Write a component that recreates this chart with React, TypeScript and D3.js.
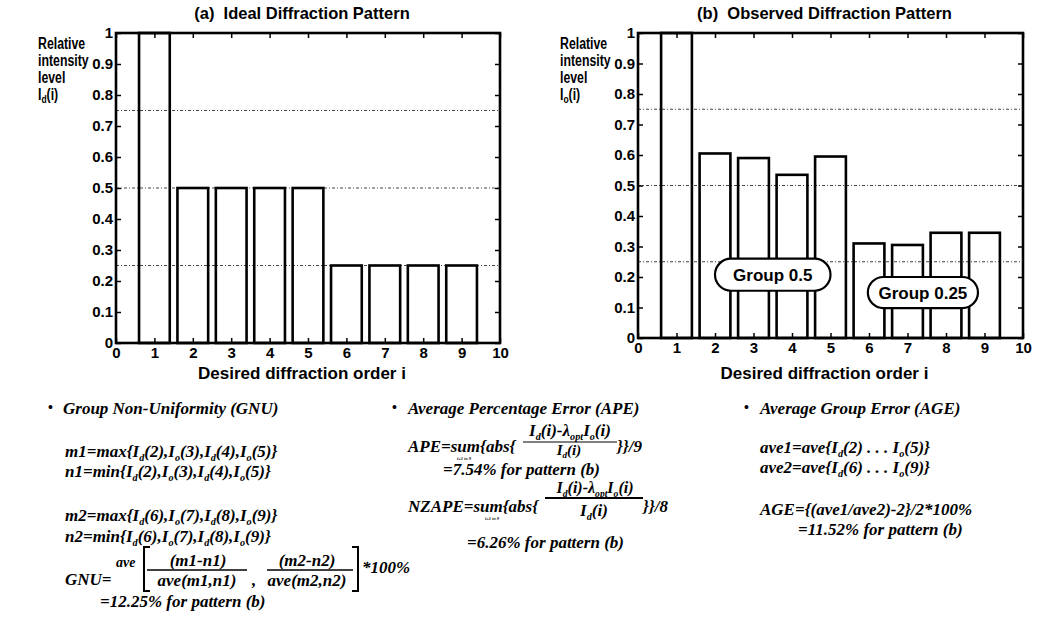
import { useRef, useEffect } from "react";
import * as d3 from "d3";

// diffraction orders 1..9 and their relative intensity levels
const orders = [1, 2, 3, 4, 5, 6, 7, 8, 9];
const idealLevels = [1, 0.5, 0.5, 0.5, 0.5, 0.25, 0.25, 0.25, 0.25];
const observedLevels = [1, 0.605, 0.59, 0.535, 0.595, 0.31, 0.305, 0.345, 0.345];

const yTicks = [0, 0.1, 0.2, 0.3, 0.4, 0.5, 0.6, 0.7, 0.8, 0.9, 1];
const xTicks = [0, 1, 2, 3, 4, 5, 6, 7, 8, 9, 10];
const guideLevels = [0.25, 0.5, 0.75];

// group callouts on the observed pattern, in data units
const groupNames = ["Group 0.5", "Group 0.25"];
const groupSpanX = [
  [2.0, 5.0],
  [5.97, 8.83],
];
const groupSpanY = [
  [0.155, 0.26],
  [0.098, 0.2],
];

const SANS = "'Liberation Sans', Arial, Helvetica, sans-serif";
const SERIF = "'Liberation Serif', 'Times New Roman', serif";

type PanelProps = {
  left: number;
  right: number;
  top: number;
  bottom: number;
  title: string;
  sub: string;
  values: number[];
  groups?: boolean;
};

function Panel({ left, right, top, bottom, title, sub, values, groups }: PanelProps) {
  const gRef = useRef<SVGGElement>(null);
  const x = d3.scaleLinear().domain([0, 10]).range([left, right]);
  const y = d3.scaleLinear().domain([0, 1]).range([bottom, top]);
  const barW = 0.8;

  useEffect(() => {
    const g = d3.select(gRef.current);
    g.selectAll("*").remove();
    const style = (sel: any) => {
      sel.select(".domain").remove();
      sel.selectAll(".tick line").attr("stroke", "#000").attr("stroke-width", 1.5);
      sel
        .selectAll(".tick text")
        .attr("font-family", SANS)
        .attr("font-weight", "bold")
        .attr("font-size", 15)
        .attr("fill", "#000");
    };
    g.append("g")
      .attr("transform", `translate(${left},0)`)
      .call(d3.axisLeft(y).tickValues(yTicks).tickSize(-5).tickPadding(3).tickFormat((d: any) => String(d)))
      .call(style);
    g.append("g")
      .attr("transform", `translate(${right},0)`)
      .call(d3.axisRight(y).tickValues(yTicks).tickSize(-5).tickFormat(() => ""))
      .call(style);
    g.append("g")
      .attr("transform", `translate(0,${bottom})`)
      .call(d3.axisBottom(x).tickValues(xTicks).tickSize(-5).tickPadding(4).tickFormat((d: any) => String(d)))
      .call(style);
    g.append("g")
      .attr("transform", `translate(0,${top})`)
      .call(d3.axisTop(x).tickValues(xTicks).tickSize(-5).tickFormat(() => ""))
      .call(style);
  }, [left, right, top, bottom]);

  const cx = (left + right) / 2 - 6;
  const yl = left - 78;

  return (
    <g>
      <text
        x={cx}
        y={19}
        textAnchor="middle"
        fontFamily={SANS}
        fontWeight="bold"
        fontSize={16.5}
        style={{ whiteSpace: "pre" }}
      >
        {title}
      </text>
      <g fontFamily={SANS} fontWeight="bold" fontSize={16} transform={`translate(${yl},0) scale(0.77,1)`}>
        <text x={0} y={49}>Relative</text>
        <text x={0} y={66}>intensity</text>
        <text x={0} y={83}>level</text>
        <text x={0} y={100}>
          I<tspan dy={3} fontSize={11}>{sub}</tspan>
          <tspan dy={-3}>(i)</tspan>
        </text>
      </g>
      {guideLevels.map((v) => (
        <line
          key={v}
          x1={left}
          x2={right}
          y1={y(v)}
          y2={y(v)}
          stroke="#444"
          strokeWidth={1}
          strokeDasharray="3,2,1,2"
        />
      ))}
      {orders.map((o, i) => (
        <rect
          key={o}
          x={x(o - barW / 2)}
          y={y(values[i])}
          width={x(o + barW / 2) - x(o - barW / 2)}
          height={y(0) - y(values[i])}
          fill="none"
          stroke="#000"
          strokeWidth={2.6}
        />
      ))}
      <rect x={left} y={top} width={right - left} height={bottom - top} fill="none" stroke="#000" strokeWidth={2.6} />
      <g ref={gRef} />
      {groups &&
        groupNames.map((name, i) => {
          const x0 = x(groupSpanX[i][0]);
          const x1 = x(groupSpanX[i][1]);
          const y0 = y(groupSpanY[i][1]);
          const y1 = y(groupSpanY[i][0]);
          const h = y1 - y0;
          return (
            <g key={name}>
              <rect x={x0} y={y0} width={x1 - x0} height={h} rx={h / 2} fill="#fff" stroke="#000" strokeWidth={2.2} />
              <text
                x={(x0 + x1) / 2}
                y={(y0 + y1) / 2 + 6}
                textAnchor="middle"
                fontFamily={SANS}
                fontWeight="bold"
                fontSize={17}
              >
                {name}
              </text>
            </g>
          );
        })}
      <text x={cx} y={379} textAnchor="middle" fontFamily={SANS} fontWeight="bold" fontSize={17}>
        Desired diffraction order i
      </text>
    </g>
  );
}

// text with "_d" / "_{opt}" subscripts
function Rich({ x, y, s, size = 17, anchor = "start" }: { x: number; y: number; s: string; size?: number; anchor?: string }) {
  const parts: { t: string; sub: boolean }[] = [];
  const re = /_\{([^}]*)\}|_(.)/g;
  let last = 0;
  let m: RegExpExecArray | null;
  while ((m = re.exec(s))) {
    if (m.index > last) parts.push({ t: s.slice(last, m.index), sub: false });
    parts.push({ t: m[1] ?? m[2], sub: true });
    last = re.lastIndex;
  }
  if (last < s.length) parts.push({ t: s.slice(last), sub: false });
  const shift = size * 0.22;
  return (
    <text x={x} y={y} fontSize={size} textAnchor={anchor as any}>
      {parts.map((p, i) => {
        const prevSub = i > 0 && parts[i - 1].sub;
        const dy = p.sub ? shift : prevSub ? -shift : 0;
        return (
          <tspan key={i} dy={dy} fontSize={p.sub ? size * 0.6 : undefined}>
            {p.t}
          </tspan>
        );
      })}
    </text>
  );
}

function Formulas() {
  const bullet = (bx: number) => (
    <text x={bx} y={412} fontStyle="normal" fontSize={14}>
      •
    </text>
  );
  return (
    <g fontFamily={SERIF} fontWeight="bold" fontStyle="italic" fill="#000">
      {/* GNU */}
      {bullet(48)}
      <Rich x={63} y={414} s="Group Non-Uniformity (GNU)" />
      <Rich x={65} y={457} s="m1=max{I_d(2),I_o(3),I_d(4),I_o(5)}" />
      <Rich x={65} y={477} s="n1=min{I_d(2),I_o(3),I_d(4),I_o(5)}" />
      <Rich x={65} y={521} s="m2=max{I_d(6),I_o(7),I_d(8),I_o(9)}" />
      <Rich x={65} y={542} s="n2=min{I_d(6),I_o(7),I_d(8),I_o(9)}" />
      <Rich x={65} y={585} s="GNU=" />
      <Rich x={116} y={567} s="ave" size={14} />
      <path d="M150,547 H144 V591 H150" fill="none" stroke="#000" strokeWidth={2} />
      <path d="M352,547 H358 V591 H352" fill="none" stroke="#000" strokeWidth={2} />
      <Rich x={198} y={566} s="(m1-n1)" anchor="middle" />
      <line x1={147} x2={247} y1={570} y2={570} stroke="#000" strokeWidth={1.5} />
      <Rich x={197} y={586} s="ave(m1,n1)" anchor="middle" />
      <Rich x={252} y={586} s="," />
      <Rich x={307} y={566} s="(m2-n2)" anchor="middle" />
      <line x1={267} x2={353} y1={570} y2={570} stroke="#000" strokeWidth={1.5} />
      <Rich x={307} y={586} s="ave(m2,n2)" anchor="middle" />
      <Rich x={362} y={573} s="*100%" />
      <Rich x={100} y={607} s="=12.25% for pattern (b)" />

      {/* APE */}
      {bullet(392)}
      <Rich x={408} y={414} s="Average Percentage Error (APE)" />
      <Rich x={570} y={436} s="I_d(i)-λ_{opt}I_o(i)" anchor="middle" />
      <line x1={523} x2={617} y1={442} y2={442} stroke="#000" strokeWidth={1} />
      <Rich x={408} y={452} s="APE=sum{abs{" />
      <text x={464} y={460} fontSize={4.5} textAnchor="middle">i=1 to 9</text>
      <Rich x={569} y={455} s="I_d(i)" anchor="middle" size={15} />
      <Rich x={443} y={475} s="=7.54% for pattern (b)" />
      <Rich x={617} y={452} s="}}/9" />
      <Rich x={595} y={493} s="I_d(i)-λ_{opt}I_o(i)" anchor="middle" size={16} />
      <line x1={545} x2={643} y1={498} y2={498} stroke="#000" strokeWidth={2} />
      <Rich x={408} y={512} s="NZAPE=sum{abs{" />
      <text x={492} y={520} fontSize={4.5} textAnchor="middle">i=1 to 9</text>
      <Rich x={594} y={516} s="I_d(i)" anchor="middle" />
      <Rich x={643} y={512} s="}}/8" />
      <Rich x={467} y={548} s="=6.26% for pattern (b)" />

      {/* AGE */}
      {bullet(744)}
      <Rich x={760} y={414} s="Average Group Error (AGE)" />
      <Rich x={760} y={453} s="ave1=ave{I_d(2) . . . I_o(5)}" />
      <Rich x={760} y={473} s="ave2=ave{I_d(6) . . . I_o(9)}" />
      <Rich x={760} y={515} s="AGE={(ave1/ave2)-2}/2*100%" />
      <Rich x={798} y={535} s="=11.52% for pattern (b)" />
    </g>
  );
}

export default function App() {
  return (
    <svg
      width={1037}
      height={618}
      style={{ position: "absolute", left: 0, top: 0, background: "#fff" }}
    >
      <rect width={1037} height={618} fill="#fff" />
      <Panel left={116} right={500} top={33} bottom={343} title="(a)  Ideal Diffraction Pattern" sub="d" values={idealLevels} />
      <Panel
        left={638}
        right={1023}
        top={33}
        bottom={338}
        title="(b)  Observed Diffraction Pattern"
        sub="o"
        values={observedLevels}
        groups
      />
      <Formulas />
    </svg>
  );
}
